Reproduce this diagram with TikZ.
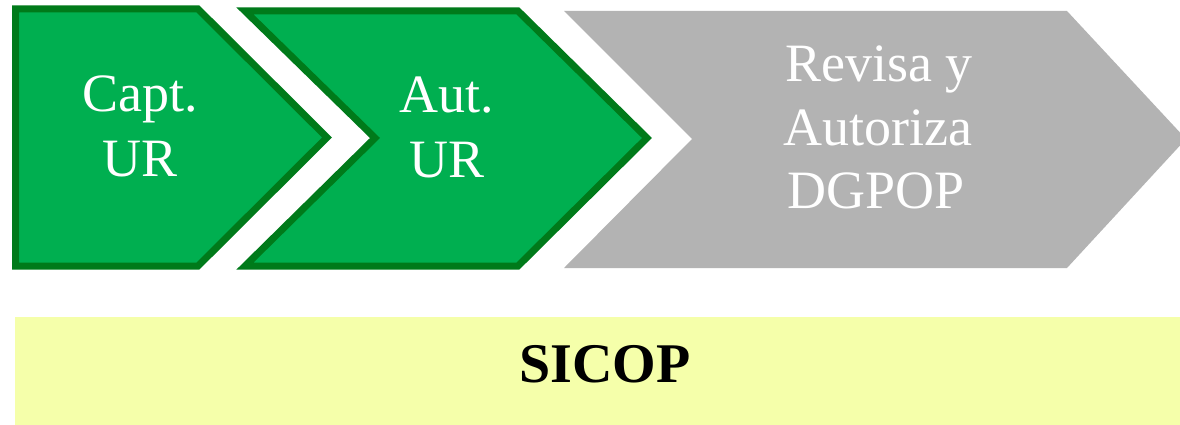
\documentclass[tikz,border=0pt]{standalone}
\usepackage{fontspec}
\setmainfont{Liberation Serif}
\definecolor{stepgreen}{HTML}{00AF50}
\definecolor{stepborder}{HTML}{007A1A}
\definecolor{stepgray}{HTML}{B3B3B3}
\definecolor{baryellow}{HTML}{F5FFAA}
\begin{document}
\begin{tikzpicture}[x=1pt,y=1pt,
  greenstep/.style={fill=stepgreen,draw=stepborder,line width=7pt,line join=miter},
  graystep/.style={fill=stepgray},
  steptext/.style={anchor=base,text=white,inner sep=0pt,font=\fontsize{54}{64}\selectfont},
  bartext/.style={anchor=base,text=black,inner sep=0pt,font=\bfseries\fontsize{56}{66}\selectfont}]
\useasboundingbox (0,0) rectangle (1180,-425);
\begin{scope}
\clip (0,0) rectangle (1180,-425);
% step 1
\draw[greenstep] (15.5,-9) -- (198,-9) -- (327,-137.5) -- (198,-266) -- (15.5,-266) -- cycle;
% step 2
\draw[greenstep] (245,-11) -- (518,-11) -- (647,-138) -- (518,-266) -- (245,-266) -- (375,-138) -- cycle;
% step 3
\fill[graystep] (564,-11) -- (1067,-11) -- (1186,-139) -- (1067,-268) -- (564,-268) -- (692,-139) -- cycle;
% bar
\fill[baryellow] (15,-317) rectangle (1180,-425);
\end{scope}
\node[steptext] (c1) at (140,-112) {Capt.};
\node[steptext] (c2) at (140,-176) {UR};
\node[steptext] (a1) at (447,-113) {Aut.};
\node[steptext] (a2) at (447,-177) {UR};
\node[steptext] (r1) at (879,-82) {Revisa y};
\node[steptext] (r2) at (878,-146) {Autoriza};
\node[steptext] (r3) at (876,-208) {DGPOP};
\node[bartext] (s) at (605,-382) {SICOP};
\end{tikzpicture}
\end{document}
